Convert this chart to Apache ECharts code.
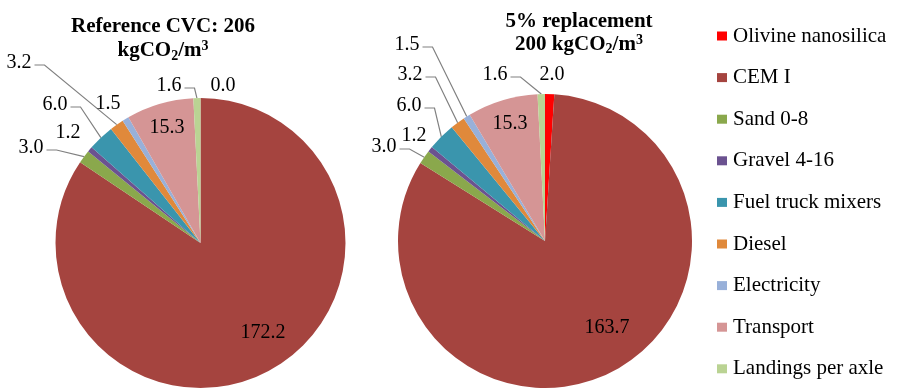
<!DOCTYPE html>
<html>
<head>
<meta charset="utf-8">
<script src="https://cdn.jsdelivr.net/npm/echarts@6/dist/echarts.min.js"></script>
<style>
  html, body { margin: 0; padding: 0; background: #ffffff; }
  #chart { width: 897px; height: 390px; }
</style>
</head>
<body>
<div id="chart"></div>
<script>
// Emission contributions (kgCO2/m3) per source
const categories = ['Olivine nanosilica', 'CEM I', 'Sand 0-8', 'Gravel 4-16', 'Fuel truck mixers', 'Diesel', 'Electricity', 'Transport', 'Landings per axle'];
const referenceValues = [0.0, 172.2, 3.0, 1.2, 6.0, 3.2, 1.5, 15.3, 1.6];
const replacementValues = [2.0, 163.7, 3.0, 1.2, 6.0, 3.2, 1.5, 15.3, 1.6];

const sliceColors = ['#ff0000', '#a5443f', '#8aa84c', '#6b5290', '#3a95ad', '#e0893b', '#98b0d9', '#d59595', '#bad393'];

// Value label placement for each pie: [centre x, centre y, draw leader line]
const labelSpots = [
  [[223, 86, false], [263, 333, false], [31, 148, true], [68, 133, false], [55, 105, true], [19, 63, true], [108, 104, false], [167, 128, false], [169, 86, true]],
  [[552, 75, false], [607, 328, false], [384, 147, true], [414, 136, false], [409, 106, true], [410, 75, true], [407, 45, true], [510, 124, false], [495, 75, true]]
];

const serif = 'Liberation Serif, Times New Roman, serif';

function placeLabel(params) {
  const spot = labelSpots[params.seriesIndex][params.dataIndex];
  const out = { x: spot[0], y: spot[1], align: 'center', verticalAlign: 'middle' };
  if (spot[2] && params.labelLinePoints) {
    const anchor = params.labelLinePoints[0];
    const right = spot[0] + params.labelRect.width / 2 + 3;
    const ly = spot[1] + 2;
    out.labelLinePoints = [[anchor[0], anchor[1]], [right + 10, ly], [right, ly]];
  }
  return out;
}

function pieSeries(seriesIndex, values, center, radius) {
  return {
    type: 'pie',
    center: center,
    radius: radius,
    startAngle: 90,
    clockwise: true,
    avoidLabelOverlap: false,
    silent: true,
    label: {
      show: true,
      position: 'outside',
      fontFamily: serif,
      fontSize: 20,
      color: '#000000',
      formatter: p => p.value.toFixed(1)
    },
    labelLine: {
      show: true,
      length: 10,
      length2: 10,
      lineStyle: { color: '#808080', width: 1.2 }
    },
    labelLayout: placeLabel,
    emphasis: { disabled: true },
    data: categories.map((name, i) => ({
      name: name,
      value: values[i],
      labelLine: { show: labelSpots[seriesIndex][i][2] }
    }))
  };
}

const chart = echarts.init(document.getElementById('chart'), null, { renderer: 'canvas' });

const titleRich = {
  sub: { fontFamily: serif, fontWeight: 'bold', fontSize: 14, verticalAlign: 'bottom', lineHeight: 16 },
  sup: { fontFamily: serif, fontWeight: 'bold', fontSize: 14, verticalAlign: 'top', lineHeight: 16 }
};

chart.setOption({
  animation: false,
  backgroundColor: '#ffffff',
  color: sliceColors,
  graphic: [
    {
      type: 'text', x: 163, y: 15,
      style: {
        text: 'Reference CVC: 206\nkgCO{sub|2}/m{sup|3}',
        fontFamily: serif, fontWeight: 'bold', fontSize: 21, lineHeight: 24,
        fill: '#000000', align: 'center', textAlign: 'center', verticalAlign: 'top', textVerticalAlign: 'top',
        rich: titleRich
      }
    },
    {
      type: 'text', x: 579, y: 10,
      style: {
        text: '5% replacement\n200 kgCO{sub|2}/m{sup|3}',
        fontFamily: serif, fontWeight: 'bold', fontSize: 21, lineHeight: 23,
        fill: '#000000', align: 'center', textAlign: 'center', verticalAlign: 'top', textVerticalAlign: 'top',
        rich: titleRich
      }
    }
  ],
  legend: {
    orient: 'vertical',
    left: 712,
    top: 20,
    itemWidth: 10,
    itemHeight: 9,
    itemGap: 19.6,
    icon: 'rect',
    selectedMode: false,
    textStyle: { fontFamily: serif, fontSize: 21, color: '#000000', lineHeight: 22, padding: [0, 0, 0, 1] },
    data: categories
  },
  series: [
    pieSeries(0, referenceValues, [200.5, 243], 145),
    pieSeries(1, replacementValues, [545, 241], 147)
  ]
});
</script>
</body>
</html>
